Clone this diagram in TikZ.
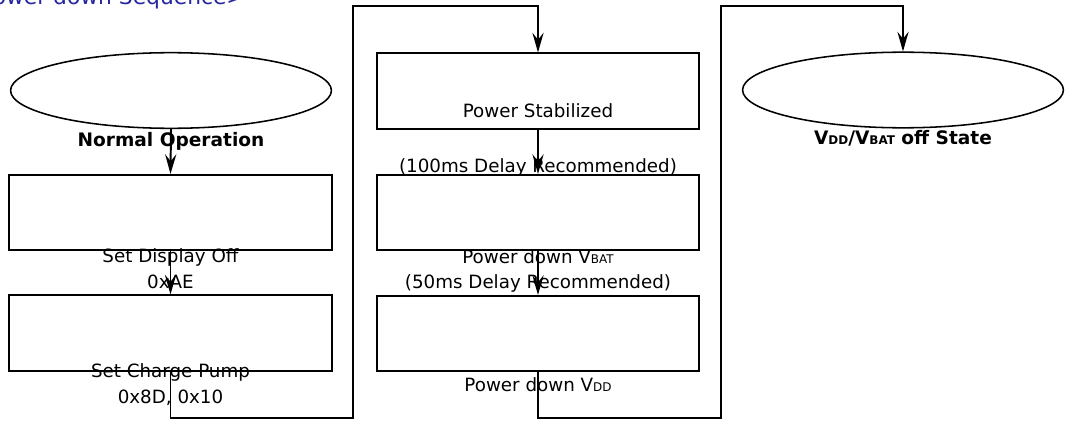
\documentclass[tikz,border=0pt]{standalone}
\usepackage{fontspec}
\setmainfont{DejaVu Sans}
\usetikzlibrary{arrows.meta,shapes.geometric}

\definecolor{titleblue}{RGB}{38,38,160}
\newcommand{\vsub}[1]{{\fontsize{8.5}{8.5}\selectfont #1}}

\tikzset{
  lbl/.style={inner sep=0pt, anchor=base, font=\fontsize{13}{16}\selectfont},
  boldlbl/.style={lbl, font=\fontsize{13.2}{16}\selectfont\bfseries},
  stepbox/.style={draw, line width=1.4pt, fill=white, minimum width=8.05cm, minimum height=1.88cm, inner sep=0pt},
  statenode/.style={draw, ellipse, line width=1.1pt, fill=white, minimum width=8.02cm, minimum height=1.89cm, inner sep=0pt},
  flow/.style={line width=1.4pt, -{Stealth[length=14pt,width=8pt,inset=5pt]}},
  wire/.style={line width=1.4pt}
}

\begin{document}
\begin{tikzpicture}[x=0.025cm, y=-0.025cm]
    % Frame
    \useasboundingbox (0,0) rectangle (1068,421);

    % Title (cut off at the top)
    \node[inner sep=0pt, anchor=base east, text=titleblue, font=\fontsize{15.5}{18}\selectfont] (title) at (245,5) {<Power down Sequence>};

    % Left column
    \node[statenode] (normal) at (171,90.5) {};
    \node[boldlbl] (normallbl) at (171,146) {Normal Operation};
    \node[stepbox] (dispoff) at (170.5,212.5) {};
    \node[stepbox] (chgpump) at (170.5,333) {};

    % Middle column
    \node[stepbox] (stable) at (538,91) {};
    \node[stepbox] (vbatoff) at (538,212.5) {};
    \node[stepbox] (vddoff) at (538,333.5) {};

    % Right column
    \node[statenode] (offstate) at (903,90) {};
    \node[boldlbl] (offstatelbl) at (903,144) {V\vsub{DD}/V\vsub{BAT} off State};

    % Connectors
    \coordinate (lp1) at (353,418);
    \coordinate (tp1) at (stable.north |- 0,6);
    \coordinate (lp2) at (721,418);
    \coordinate (tp2) at (offstate.north |- 0,6);

    \draw[flow] (normal.south) -- (dispoff.north);
    \draw[flow] (dispoff.south) -- (chgpump.north);
    \draw[flow] (chgpump.south) |- (lp1) |- (tp1) -- (stable.north);
    \draw[flow] (stable.south) -- (vbatoff.north);
    \draw[flow] (vbatoff.south) -- (vddoff.north);
    \draw[flow] (vddoff.south) |- (lp2) |- (tp2) -- (offstate.north);

    % Labels
    \node[lbl] (dispofflbl) at (170.5,262) {Set Display Off};
    \node[lbl] (dispoffcmd) at (170.5,288) {0xAE};
    \node[lbl] (chgpumplbl) at (170.5,377) {Set Charge Pump};
    \node[lbl] (chgpumpcmd) at (170.5,403) {0x8D, 0x10};
    \node[lbl] (stablelbl) at (538,117) {Power Stabilized};
    \node[lbl] (stabledly) at (538,172) {(100ms Delay Recommended)};
    \node[lbl] (vbatofflbl) at (538,263) {Power down V\vsub{BAT}};
    \node[lbl] (vbatoffdly) at (538,288) {(50ms Delay Recommended)};
    \node[lbl] (vddofflbl) at (538,391) {Power down V\vsub{DD}};
\end{tikzpicture}
\end{document}
